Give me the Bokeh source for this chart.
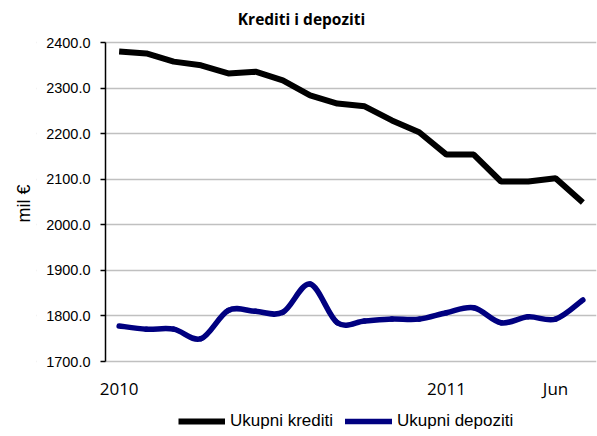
from bokeh.plotting import figure
from bokeh.models import (Range1d, FixedTicker, Legend, LegendItem, Title,
                          Label, BoxAnnotation)
from bokeh.embed import file_html
from bokeh.resources import INLINE

# Monthly observations, Jan 2010 .. Jun 2011 (category index)
months = list(range(18))
credits = [2380, 2376, 2358, 2350, 2332, 2336, 2317, 2284, 2266, 2260,
           2229, 2203, 2154, 2154, 2095, 2095, 2102, 2049]
deposits = [1778, 1771, 1771, 1750, 1812, 1810, 1808, 1870, 1785, 1789,
            1793, 1793, 1807, 1818, 1785, 1798, 1793, 1835]
x_tick_pos = [0, 12, 16]
x_tick_labels = ["2010", "2011", "Jun"]
y_ticks = [1700, 1800, 1900, 2000, 2100, 2200, 2300, 2400]
title_text = "Krediti i depoziti"
y_label = "mil €"
series_names = ["Ukupni krediti", "Ukupni depoziti"]

# ---- layout (pixels) ----
W, H = 597, 436
frame_left = 36                       # left panel holds the y-axis title
axis_left, axis_right = 105, 596      # value area
axis_top, axis_bottom = 42, 361
Y_MIN, Y_MAX = 1700, 2400
X_MIN, X_MAX = -0.5, len(months) - 0.5
upx_y = (Y_MAX - Y_MIN) / (axis_bottom - axis_top)
upx_x = (X_MAX - X_MIN) / (axis_right - axis_left)
y_start = Y_MIN - (H - axis_bottom) * upx_y
y_end = Y_MAX + axis_top * upx_y
x_start = X_MIN - (axis_left - frame_left) * upx_x

p = figure(width=W, height=H, output_backend="svg", toolbar_location=None,
           x_range=Range1d(x_start, X_MAX), y_range=Range1d(y_start, y_end),
           min_border_left=frame_left, min_border_right=W - axis_right,
           min_border_top=0, min_border_bottom=0, outline_line_color=None)

# grid
p.xgrid.grid_line_color = None
p.ygrid.ticker = FixedTicker(ticks=y_ticks)
p.ygrid.grid_line_color = "#c0c0c0"
p.ygrid.grid_line_width = 1.5
# keep grid lines out of the tick-label area
p.add_layout(BoxAnnotation(left=x_start, right=X_MIN, bottom=y_start, top=y_end,
                           fill_color="white", fill_alpha=1, line_color=None,
                           level="underlay"))

# y axis pinned at the left edge of the value area
p.yaxis.fixed_location = X_MIN
p.yaxis.ticker = FixedTicker(ticks=y_ticks)
p.yaxis.bounds = (Y_MIN, Y_MAX)
p.yaxis.major_label_overrides = {t: f"{t:.1f}" for t in y_ticks}
p.yaxis.major_label_text_font = "Liberation Sans"
p.yaxis.major_label_text_font_size = "14.5px"
p.yaxis.major_label_text_color = "black"
p.yaxis.major_label_standoff = 10
p.yaxis.major_tick_out = 5
p.yaxis.major_tick_in = 0
p.yaxis.minor_tick_line_color = None
p.yaxis.axis_line_color = "black"
p.yaxis.axis_line_width = 1.5
p.yaxis.major_tick_line_width = 1.5

ytitle = Title(text=y_label, align="left", offset=214, standoff=5,
               text_font="Liberation Sans", text_font_size="18px",
               text_font_style="normal", text_color="black")
p.add_layout(ytitle, "left")

# x axis pinned at the bottom of the value range
p.xaxis.fixed_location = Y_MIN
p.xaxis.ticker = FixedTicker(ticks=x_tick_pos)
p.xaxis.major_label_overrides = dict(zip(x_tick_pos, x_tick_labels))
p.xaxis.major_label_text_font = "Open Sans"
p.xaxis.major_label_text_font_size = "17px"
p.xaxis.major_label_text_color = "black"
p.xaxis.major_label_standoff = 9
p.xaxis.major_tick_line_color = None
p.xaxis.minor_tick_line_color = None
p.xaxis.axis_line_color = None

# credits: straight line
r_cred = p.line(months, credits, line_color="black", line_width=6)

# deposits: smoothed line (Bezier segments through the data points)
n = len(months)
x0, y0, x1, y1, cx0, cy0, cx1, cy1 = [], [], [], [], [], [], [], []
for i in range(n - 1):
    im1 = max(i - 1, 0)
    ip2 = min(i + 2, n - 1)
    x0.append(months[i]); y0.append(deposits[i])
    x1.append(months[i + 1]); y1.append(deposits[i + 1])
    cx0.append(months[i] + (months[i + 1] - months[im1]) / 6)
    cy0.append(deposits[i] + (deposits[i + 1] - deposits[im1]) / 6)
    cx1.append(months[i + 1] - (months[ip2] - months[i]) / 6)
    cy1.append(deposits[i + 1] - (deposits[ip2] - deposits[i]) / 6)
r_dep = p.bezier(x0=x0, y0=y0, x1=x1, y1=y1, cx0=cx0, cy0=cy0, cx1=cx1, cy1=cy1,
                 line_color="#000080", line_width=5.5, line_cap="round")

legend = Legend(items=[LegendItem(label=series_names[0], renderers=[r_cred]),
                       LegendItem(label=series_names[1], renderers=[r_dep])],
                orientation="horizontal", location=(178 - frame_left, 5),
                glyph_width=47, glyph_height=16, label_standoff=5, spacing=12,
                label_text_font="Liberation Sans", label_text_font_size="17px",
                label_text_color="black", border_line_color=None,
                background_fill_alpha=0, padding=0, margin=0)
p.add_layout(legend)

# chart title, centred over the whole chart
title_x = X_MIN + (301 - axis_left) * upx_x
title_y = Y_MAX + (axis_top - 18) * upx_y
p.add_layout(Label(x=title_x, y=title_y, text=title_text, text_align="center",
                   text_baseline="middle", text_font="Open Sans",
                   text_font_size="15.5px", text_font_style="bold",
                   text_color="black"))

open("out.html", "w").write(file_html(p, INLINE))
